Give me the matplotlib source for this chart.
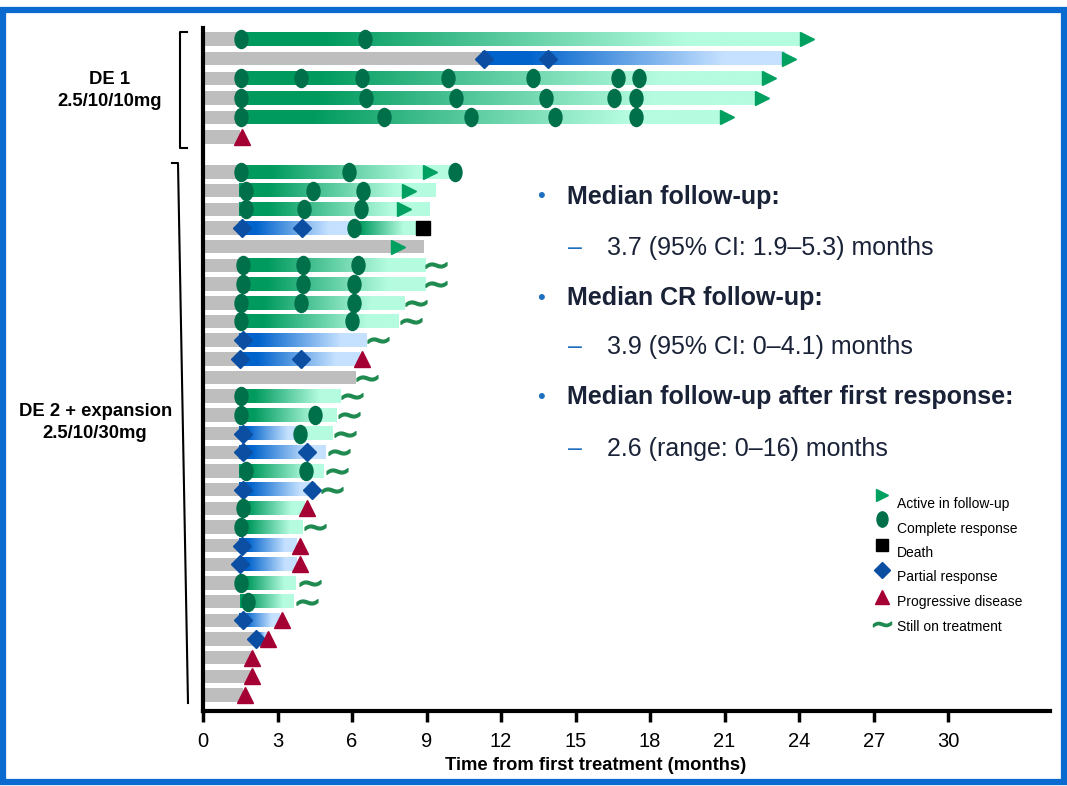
import matplotlib.pyplot as plt
import numpy as np
from matplotlib.colors import LinearSegmentedColormap
from matplotlib.lines import Line2D
from matplotlib.patches import Rectangle
from matplotlib.path import Path

# ---- data (months) ----
# one entry per patient row, top to bottom; rows 0-5 = DE 1, rows 6-34 = DE 2 + expansion
seg_start = [1.45, 11.24, 1.45, 1.45, 1.45, None,
             1.4, 1.45, 1.45, 1.45, None, 1.45, 1.45, 1.45, 1.45, 1.45, 1.45, None,
             1.45, 1.45, 1.45, 1.45, 1.45, 1.45, 1.45, 1.45, 1.45, 1.45, 1.45, 1.5,
             1.45, 2.09, None, None, None]
seg_end = [24.0, 23.4, 22.6, 22.3, 20.9, None,
           10.37, 9.37, 9.1, 5.92, None, 8.94, 8.94, 8.1, 7.89, 6.59, 6.32, None,
           5.52, 5.38, 3.9, 4.94, 4.87, 4.51, 4.07, 4.01, 3.75, 3.75, 3.73, 3.66,
           3.1, 2.58, None, None, None]
seg_kind = ["green", "blue", "green", "green", "green", None,
            "green", "green", "green", "blue", None, "green", "green", "green", "green", "blue", "blue", None,
            "green", "green", "blue", "blue", "green", "blue", "green", "green", "blue", "blue", "green", "green",
            "blue", "blue", None, None, None]
# gray-only length for rows without a coloured segment
gray_only = {5: 1.5, 10: 8.9, 17: 6.15, 32: 1.93, 33: 1.93, 34: 1.62}

# second coloured segment (response change)
seg2_rows = [9, 20]
seg2_start = [5.92, 3.9]
seg2_end = [8.6, 5.22]
seg2_kind = ["green", "mint"]

cr_times = [[1.53, 6.52], [], [1.53, 3.95, 6.4, 9.87, 13.29, 16.71, 17.56],
            [1.53, 6.56, 10.19, 13.81, 16.55, 17.44], [1.53, 7.29, 10.79, 14.18, 17.44], [],
            [1.53, 5.88, 10.15], [1.73, 4.42, 6.44], [1.73, 4.07, 6.36], [6.08], [],
            [1.61, 4.03, 6.23], [1.61, 4.03, 6.07], [1.53, 3.95, 6.08], [1.53, 5.99], [], [], [],
            [1.53], [1.53, 4.51], [3.9], [], [1.73, 4.13], [], [1.61], [1.53], [], [],
            [1.53], [1.81], [], [], [], [], []]
pr_times = [[], [11.3, 13.9], [], [], [], [],
            [], [], [], [1.57, 3.99], [], [], [], [], [], [1.6], [1.49, 3.95], [],
            [], [], [1.6], [1.6, 4.19], [], [1.6, 4.38], [], [], [1.58], [1.49],
            [], [], [1.6], [2.13], [], [], []]
pd_rows = [5, 16, 24, 26, 27, 30, 31, 32, 33, 34]
pd_times = [1.57, 6.4, 4.19, 3.91, 3.91, 3.17, 2.6, 1.96, 1.96, 1.69]
active_rows = [0, 1, 2, 3, 4, 6, 7, 8, 10]
active_times = [24.3, 23.6, 22.8, 22.5, 21.1, 9.14, 8.28, 8.1, 7.85]
death_rows = [9]
death_times = [8.85]
ontx_rows = [11, 12, 13, 14, 15, 17, 18, 19, 20, 21, 22, 23, 25, 28, 29]
ontx_times = [9.4, 9.4, 8.58, 8.36, 7.05, 6.6, 5.99, 5.88, 5.72, 5.48, 5.38, 5.18, 4.51, 4.31, 4.19]

xticks = [0, 3, 6, 9, 12, 15, 18, 21, 24, 27, 30]

bullets = ["Median follow-up:", "Median CR follow-up:", "Median follow-up after first response:"]
subs = ["3.7 (95% CI: 1.9\u20135.3) months", "3.9 (95% CI: 0\u20134.1) months", "2.6 (range: 0\u201316) months"]

legend_labels = ["Active in follow-up", "Complete response", "Death", "Partial response",
                 "Progressive disease", "Still on treatment"]

# ---- style ----
GRAY = "#bebebe"
CR_C = "#00704a"
PR_C = "#0b4ea2"
PD_C = "#a50034"
ACT_C = "#00a060"
TX_C = "#1e8a50"
TEXT_C = "#1a2238"
BLUE_C = "#1f6fc0"

cmaps = {
    "green": LinearSegmentedColormap.from_list("g", [(0, "#009a5e"), (0.15, "#009a5e"), (0.8, "#b5fce0"), (1, "#b5fce0")]),
    "blue": LinearSegmentedColormap.from_list("b", [(0, "#0063cc"), (0.15, "#0063cc"), (0.8, "#c5e1ff"), (1, "#c5e1ff")]),
    "mint": LinearSegmentedColormap.from_list("m", ["#b5fce0", "#b5fce0"]),
}

plt.rcParams["font.family"] = ["Liberation Sans", "DejaVu Sans"]

W, H = 1067, 786
fig = plt.figure(figsize=(W / 100, H / 100), dpi=100)
ax = fig.add_axes([203 / W, 75 / H, (1050 - 203) / W, (711 - 28) / H])

n = len(seg_start)
# DE 1 rows are spaced a little wider than DE 2 rows
ypos = [-0.12 + 1.05 * i if i < 6 else i + 1 for i in range(n)]
bh = 0.72
grad = np.linspace(0, 1, 256).reshape(1, -1)


def gbar(x0, x1, y, kind):
    ax.imshow(grad, cmap=cmaps[kind], aspect="auto", extent=[x0, x1, y + bh / 2, y - bh / 2],
              interpolation="bicubic", zorder=2)


ell = Path(Path.unit_circle().vertices * np.array([0.72, 1.0]), Path.unit_circle().codes)

for i in range(n):
    y = ypos[i]
    if seg_start[i] is not None:
        ax.barh(y, seg_start[i], height=bh, color=GRAY, zorder=1)
        gbar(seg_start[i], seg_end[i], y, seg_kind[i])
    else:
        ax.barh(y, gray_only[i], height=bh, color=GRAY, zorder=1)
    for t in cr_times[i]:
        ax.plot(t, y, marker=ell, ms=13, color=CR_C, ls="none", zorder=4)
    for t in pr_times[i]:
        ax.plot(t, y, marker="D", ms=9, color=PR_C, ls="none", zorder=4)

for r, a, b, k in zip(seg2_rows, seg2_start, seg2_end, seg2_kind):
    gbar(a, b, ypos[r], k)

ax.plot(pd_times, [ypos[r] for r in pd_rows], "^", ms=11, color=PD_C, zorder=5)
ax.plot(active_times, [ypos[r] for r in active_rows], ">", ms=10, color=ACT_C, zorder=5)
ax.plot(death_times, [ypos[r] for r in death_rows], "s", ms=10, color="black", zorder=5)
ax.plot(ontx_times, [ypos[r] for r in ontx_rows], ls="none", marker=r"$\sim$", ms=15, color=TX_C, zorder=5)

ax.set_xlim(0, 34.1)
ax.set_ylim(35.85, -0.71)
ax.set_yticks([])
ax.set_xticks(xticks)
ax.set_xticklabels([str(t) for t in xticks], fontsize=14.5)
ax.tick_params(axis="x", length=8, width=2.5, pad=7)
for s in ["top", "right"]:
    ax.spines[s].set_visible(False)
ax.spines["left"].set_linewidth(3)
ax.spines["bottom"].set_linewidth(3)
ax.set_xlabel("Time from first treatment (months)", fontsize=13.2, fontweight="bold")
ax.xaxis.set_label_coords(0.464, -0.067)


def fx(px):
    return px / W


def fy(py):
    return 1 - py / H


# group brackets
fig.add_artist(Line2D([fx(187), fx(180), fx(180), fx(187)], [fy(32), fy(32), fy(148), fy(148)],
                      color="black", lw=1.5))
fig.add_artist(Line2D([fx(172), fx(178), fx(188)], [fy(163), fy(163), fy(703)], color="black", lw=1.5))
for txt, x, y in [("DE 1", 110, 80), ("2.5/10/10mg", 110, 102),
                  ("DE 2 + expansion", 96, 412), ("2.5/10/30mg", 95, 434)]:
    fig.text(fx(x), fy(y), txt, ha="center", va="center", fontsize=13.3, fontweight="bold", color="black")

# summary text
for k in range(3):
    yb = [197, 298, 397][k]
    ys = [248, 347, 449][k]
    fig.text(fx(541), fy(yb), "\u2022", ha="center", va="center", fontsize=16, color=BLUE_C)
    fig.text(fx(567), fy(yb), bullets[k], ha="left", va="center", fontsize=18, fontweight="bold", color=TEXT_C)
    fig.text(fx(575), fy(ys), "\u2013", ha="center", va="center", fontsize=18, color=BLUE_C)
    fig.text(fx(607), fy(ys), subs[k], ha="left", va="center", fontsize=18, color=TEXT_C)

# legend
leg_markers = [(">", ACT_C, 9), (ell, CR_C, 11), ("s", "black", 9), ("D", PR_C, 8), ("^", PD_C, 10),
               (r"$\sim$", TX_C, 13)]
for k, (m, c, ms) in enumerate(leg_markers):
    my = [495, 519, 545, 570, 597, 624][k]
    ty = [504, 529, 553, 577, 602, 627][k]
    fig.add_artist(Line2D([fx(882)], [fy(my)], marker=m, ms=ms, color=c, ls="none"))
    fig.text(fx(897), fy(ty), legend_labels[k], ha="left", va="center", fontsize=10, color="black")

# blue frame
fig.add_artist(Rectangle((fx(2.5), fy(782)), fx(1061.5), 1 - 10 / H - 4 / H, transform=fig.transFigure,
                         fill=False, edgecolor="#0a6ad0", lw=4.5))

fig.savefig("out.png", dpi=100)
